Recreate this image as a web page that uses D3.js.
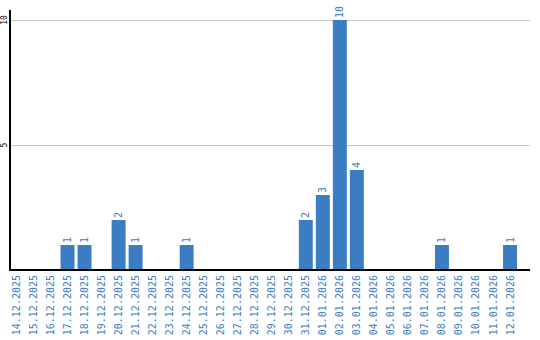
<!DOCTYPE html>
<html>
<head>
<meta charset="utf-8">
<script src="https://cdn.jsdelivr.net/npm/d3@7"></script>
<style>
  body { margin: 0; background: #fff; }
  .grid line { stroke: #c8c8c8; }
  .grid .domain { display: none; }
</style>
</head>
<body>
<div id="chart"></div>
<script>
const dates = ["14.12.2025","15.12.2025","16.12.2025","17.12.2025","18.12.2025","19.12.2025",
  "20.12.2025","21.12.2025","22.12.2025","23.12.2025","24.12.2025","25.12.2025","26.12.2025",
  "27.12.2025","28.12.2025","29.12.2025","30.12.2025","31.12.2025","01.01.2026","02.01.2026",
  "03.01.2026","04.01.2026","05.01.2026","06.01.2026","07.01.2026","08.01.2026","09.01.2026",
  "10.01.2026","11.01.2026","12.01.2026"];
const counts = [0,0,0,1,1,0,2,1,0,0,1,0,0,0,0,0,0,2,3,10,4,0,0,0,0,1,0,0,0,1];
const yTicks = [5, 10];

const width = 540, height = 340,
  margin = { top: 10, right: 10, bottom: 70, left: 10 },
  blue = "#3b7dc3";

const svg = d3.select("#chart").append("svg")
  .attr("width", width).attr("height", height);

const xScale = d3.scaleBand()
  .domain(dates)
  .range([margin.left - 0.5, 517])
  .paddingInner(0.18)
  .paddingOuter(0);

// 0 at y=270, 10 at y=20
const yScale = d3.scaleLinear()
  .domain([0, 10.4])
  .range([height - margin.bottom, margin.top]);

// gridlines
svg.append("g")
  .attr("class", "grid")
  .attr("transform", `translate(${margin.left},0)`)
  .call(d3.axisRight(yScale).tickValues(yTicks).tickSize(width - margin.right - margin.left).tickFormat(""));

// y tick labels
svg.selectAll("text.ytick")
  .data(yTicks)
  .join("text")
  .attr("class", "ytick")
  .attr("transform", d => `translate(7,${yScale(d)}) rotate(-90)`)
  .attr("text-anchor", "middle")
  .attr("font-family", "DejaVu Sans Mono")
  .attr("font-size", 8)
  .attr("fill", "#000")
  .text(d => d);

const nonZero = counts.map((c, i) => ({ date: dates[i], c })).filter(d => d.c > 0);

// bars
svg.selectAll("rect.bar")
  .data(nonZero)
  .join("rect")
  .attr("class", "bar")
  .attr("x", d => xScale(d.date))
  .attr("width", xScale.bandwidth())
  .attr("y", d => yScale(d.c))
  .attr("height", d => yScale(0) - yScale(d.c))
  .attr("fill", blue);

// value labels
svg.selectAll("text.val")
  .data(nonZero)
  .join("text")
  .attr("class", "val")
  .attr("transform", d => `translate(${xScale(d.date) + xScale.bandwidth() / 2 + 3.5},${yScale(d.c) - 2}) rotate(-90)`)
  .attr("text-anchor", "start")
  .attr("font-family", "DejaVu Sans Mono")
  .attr("font-size", 10)
  .attr("fill", blue)
  .text(d => d.c);

// x labels
svg.selectAll("text.xlab")
  .data(dates)
  .join("text")
  .attr("class", "xlab")
  .attr("transform", d => `translate(${xScale(d) + xScale.bandwidth() / 2 + 3.5},${height - margin.bottom + 5}) rotate(-90)`)
  .attr("text-anchor", "end")
  .attr("font-family", "DejaVu Sans Mono")
  .attr("font-size", 10)
  .attr("fill", blue)
  .text(d => d);

// axes lines
svg.append("line")
  .attr("x1", margin.left).attr("x2", margin.left)
  .attr("y1", margin.top).attr("y2", yScale(0) + 1)
  .attr("stroke", "#000").attr("stroke-width", 2);
svg.append("line")
  .attr("x1", margin.left).attr("x2", width - margin.right)
  .attr("y1", yScale(0)).attr("y2", yScale(0))
  .attr("stroke", "#000").attr("stroke-width", 2);
</script>
</body>
</html>
